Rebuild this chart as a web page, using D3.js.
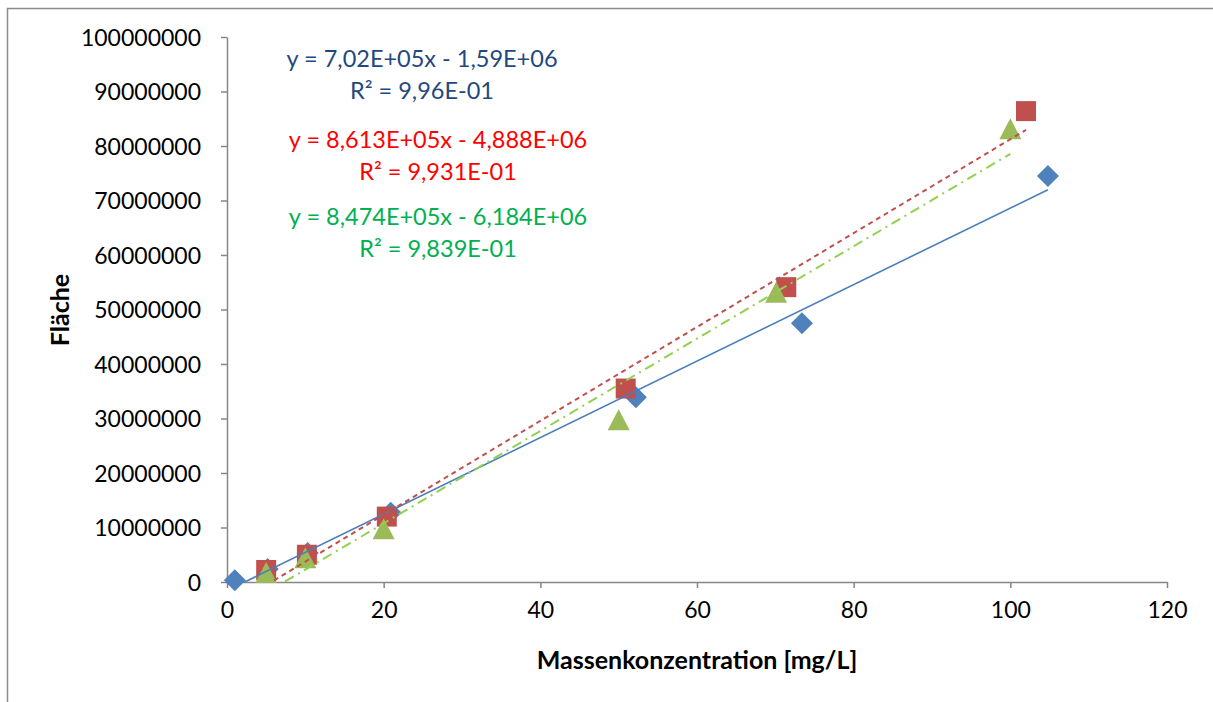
<!DOCTYPE html>
<html><head><meta charset="utf-8">
<script src="https://cdn.jsdelivr.net/npm/d3@7"></script>
<style>
html,body{margin:0;padding:0;background:#fff;}
text{font-family:Lato,"Open Sans",sans-serif;}
</style></head>
<body>
<svg id="c" width="1213" height="702"></svg>
<script>
// ---- data ----
const xTicks = [0, 20, 40, 60, 80, 100, 120];
const yTicks = [0,10000000,20000000,30000000,40000000,50000000,60000000,70000000,80000000,90000000,100000000];

const blueX = [1.0, 5.2, 10.3, 20.9, 52.2, 73.4, 104.8];
const blueY = [300000, 2400000, 5300000, 12700000, 33900000, 47500000, 74500000];

const redX = [5.0, 10.2, 20.4, 50.9, 71.4, 102.0];
const redY = [2200000, 5000000, 12000000, 35500000, 54100000, 86400000];

const greenX = [5.0, 10.0, 20.0, 50.0, 70.1, 100.0];
const greenY = [1300000, 4000000, 9300000, 29300000, 52700000, 82700000];

const blueFit = {slope: 7.02e5, intercept: -1.59e6};
const redFit = {slope: 8.613e5, intercept: -4.888e6};
const greenFit = {slope: 8.474e5, intercept: -6.184e6};

const blueEq = ["y = 7,02E+05x - 1,59E+06", "R² = 9,96E-01"];
const redEq = ["y = 8,613E+05x - 4,888E+06", "R² = 9,931E-01"];
const greenEq = ["y = 8,474E+05x - 6,184E+06", "R² = 9,839E-01"];

const xTitle = "Massenkonzentration [mg/L]";
const yTitle = "Fläche";

// ---- layout ----
const svg = d3.select("#c");
const L = 227, R = 1167, T = 37, B = 582;
const x = d3.scaleLinear().domain([0, 120]).range([L, R]);
const y = d3.scaleLinear().domain([0, 100000000]).range([B, T]);
const axisColor = "#868686";

// outer frame
svg.append("path").attr("d", `M7.5,702 V8.5 H1213`).attr("fill","none").attr("stroke","#8c8c8c").attr("stroke-width",1.5);

svg.append("defs").append("clipPath").attr("id","plot")
  .append("rect").attr("x",L).attr("y",T).attr("width",R-L).attr("height",B-T);

// axes
const gx = svg.append("g").attr("transform",`translate(0,${B})`)
  .call(d3.axisBottom(x).tickValues(xTicks).tickSize(6).tickSizeOuter(0).tickPadding(14).tickFormat(d3.format("d")));
const gy = svg.append("g").attr("transform",`translate(${L},0)`)
  .call(d3.axisLeft(y).tickValues(yTicks).tickSize(6).tickSizeOuter(0).tickPadding(20).tickFormat(d3.format("d")));
[gx, gy].forEach(g => {
  g.select(".domain").attr("stroke", axisColor).attr("stroke-width",1.5);
  g.selectAll(".tick line").attr("stroke", axisColor).attr("stroke-width",1.5);
  g.selectAll(".tick text").attr("fill","#000").style("font-size","23px").style("font-family","Lato");
});
gx.selectAll(".tick text").attr("dy","0.71em");
gy.selectAll(".tick text").attr("dy","0.35em");

// axis titles
svg.append("text").attr("x", 697).attr("y", 669).attr("text-anchor","middle")
  .style("font-size","25px").style("font-weight","bold").text(xTitle);
svg.append("text").attr("transform","translate(69,310) rotate(-90)").attr("text-anchor","middle")
  .style("font-size","25px").style("font-weight","bold").text(yTitle);

// markers
function drawPoints(xs, ys, path, color) {
  svg.append("g").selectAll("path").data(xs.map((d,i)=>[d, ys[i]])).join("path")
    .attr("d", path)
    .attr("transform", d => `translate(${x(d[0])},${y(d[1])})`)
    .attr("fill", color);
}
const diamond = "M0,-11 L11,0 L0,11 L-11,0 Z";
const square = "M-10,-10 H10 V10 H-10 Z";
const triangle = "M0,-13 L11,8 L-11,8 Z";
drawPoints(blueX, blueY, diamond, "#4F81BD");
drawPoints(redX, redY, square, "#C0504D");
drawPoints(greenX, greenY, triangle, "#9BBB59");

// trendlines
function trend(xs, fit, color, dash, w) {
  const x0 = d3.min(xs), x1 = d3.max(xs);
  svg.append("line").attr("clip-path","url(#plot)")
    .attr("x1", x(x0)).attr("y1", y(fit.slope*x0 + fit.intercept))
    .attr("x2", x(x1)).attr("y2", y(fit.slope*x1 + fit.intercept))
    .attr("stroke", color).attr("stroke-width", w).attr("stroke-dasharray", dash);
}
trend(blueX, blueFit, "#4A7EBB", null, 1.6);
trend(redX, redFit, "#C0504D", "5,4", 2);
trend(greenX, greenFit, "#92D050", "10,5,2,5", 2);

// equations
function eq(lines, cx, y0, color) {
  lines.forEach((t,i) => svg.append("text").attr("x", cx).attr("y", y0 + i*31.5)
    .attr("text-anchor","middle").attr("fill", color).style("font-size","23.5px").text(t));
}
eq(blueEq, 422, 67, "#1F497D");
eq(redEq, 438, 148, "#FF0000");
eq(greenEq, 438, 225, "#00B050");
</script>
</body></html>
